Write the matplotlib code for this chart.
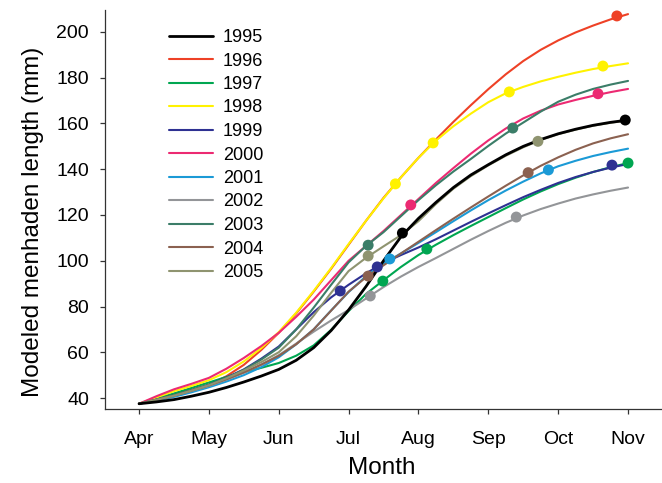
import numpy as np
import matplotlib
matplotlib.use('Agg')
import matplotlib.pyplot as plt

plt.rcParams['font.family'] = ['Liberation Sans', 'DejaVu Sans']

# month positions (Apr = 4 ... Nov = 11), read every quarter month
months = [4, 4.25, 4.5, 4.75, 5, 5.25, 5.5, 5.75, 6, 6.25, 6.5, 6.75, 7, 7.25, 7.5,
          7.75, 8, 8.25, 8.5, 8.75, 9, 9.25, 9.5, 9.75, 10, 10.25, 10.5, 10.75, 11]
month_labels = ['Apr', 'May', 'Jun', 'Jul', 'Aug', 'Sep', 'Oct', 'Nov']

years = ['1995', '1996', '1997', '1998', '1999', '2000',
         '2001', '2002', '2003', '2004', '2005']
colors = ['#000000', '#ee4126', '#00a651', '#fff200', '#2e3192', '#ec2a72',
          '#1b9ad6', '#939598', '#3b7d68', '#8b6150', '#8f9470']

len_1995 = [37.5, 38.3, 39.3, 40.8, 42.5, 44.6, 47.0, 49.6, 52.5, 56.5, 62.0, 69.5, 78.5, 88.8, 100.0,
            110.5, 118.5, 125.5, 132.0, 137.5, 142.0, 146.3, 150.0, 153.0, 155.5, 157.5, 159.2, 160.5, 161.5]
len_1996 = [37.5, 39.5, 41.5, 43.5, 45.8, 49.5, 54.5, 61.0, 68.5, 77.0, 86.5, 96.5, 107.0, 117.5, 127.5,
            136.5, 145.0, 153.0, 160.7, 168.0, 175.0, 181.5, 187.3, 192.2, 196.3, 199.8, 202.8, 205.5, 207.8]
len_1997 = [37.5, 39.8, 42.0, 44.4, 46.8, 49.2, 51.3, 53.2, 55.3, 58.5, 63.0, 69.8, 78.0, 85.5, 91.5,
            97.3, 102.5, 107.0, 111.2, 115.2, 119.1, 123.0, 126.8, 130.3, 133.5, 136.3, 138.8, 140.9, 142.7]
len_1998 = [37.5, 40.3, 43.0, 45.3, 47.8, 51.3, 56.0, 61.8, 68.8, 77.3, 86.8, 96.8, 107.3, 117.5, 127.3,
            136.5, 145.0, 152.5, 158.8, 164.3, 169.3, 173.2, 176.0, 178.4, 180.4, 182.2, 183.8, 185.1, 186.3]
len_1999 = [37.5, 39.3, 41.2, 43.4, 45.8, 48.9, 52.5, 57.2, 62.5, 70.0, 77.5, 84.0, 89.5, 94.5, 99.0,
            102.5, 105.8, 109.4, 113.2, 117.0, 120.7, 124.3, 127.8, 131.0, 134.0, 136.6, 138.8, 140.7, 142.3]
len_2000 = [37.5, 40.8, 43.8, 46.2, 48.8, 52.8, 57.5, 62.7, 68.5, 75.5, 83.0, 91.5, 100.0, 106.5, 113.0,
            120.0, 127.0, 134.0, 140.5, 146.8, 152.6, 157.8, 162.2, 165.6, 168.3, 170.3, 172.1, 173.7, 175.1]
len_2001 = [37.5, 38.9, 40.5, 42.5, 44.7, 47.2, 50.0, 53.5, 57.8, 63.5, 70.0, 78.3, 86.3, 93.3, 98.8,
            103.2, 107.8, 112.5, 117.3, 122.0, 126.5, 130.7, 134.6, 138.2, 141.3, 143.7, 145.8, 147.5, 149.0]
len_2002 = [37.5, 39.2, 41.0, 43.1, 45.3, 48.0, 51.0, 54.6, 58.7, 63.8, 69.0, 73.9, 78.5, 83.5, 88.5,
            93.1, 97.3, 101.2, 105.2, 109.2, 113.0, 116.6, 119.8, 122.6, 125.0, 127.2, 129.0, 130.6, 132.0]
len_2003 = [37.5, 39.3, 41.2, 43.4, 45.7, 48.8, 52.3, 56.8, 62.0, 70.0, 79.5, 89.5, 99.3, 106.5, 112.5,
            119.5, 126.5, 133.0, 139.0, 144.5, 150.2, 155.6, 160.4, 165.2, 169.5, 172.6, 175.1, 177.0, 178.6]
len_2004 = [37.5, 39.2, 41.0, 43.2, 45.5, 48.2, 51.2, 54.6, 58.4, 63.5, 70.0, 78.2, 86.5, 92.8, 98.0,
            103.2, 108.3, 113.4, 118.4, 123.3, 128.1, 132.8, 137.3, 141.5, 145.2, 148.5, 151.3, 153.5, 155.3]
len_2005 = [37.5, 39.2, 41.0, 43.2, 45.6, 48.6, 52.0, 55.7, 60.0, 67.0, 76.0, 86.0, 95.5, 101.3, 106.3,
            111.2, 117.3, 124.8, 131.5, 137.0, 141.7, 145.9, 149.6, 152.8, 155.3, 157.3, 159.0, 160.3, 161.3]

lengths = [len_1995, len_1996, len_1997, len_1998, len_1999, len_2000,
           len_2001, len_2002, len_2003, len_2004, len_2005]

# sampling dots on each curve
dot_year = ['1995', '1995', '1996', '1997', '1997', '1997', '1998', '1998', '1998', '1998',
            '1999', '1999', '1999', '2000', '2000', '2001', '2001', '2002', '2002',
            '2003', '2003', '2004', '2004', '2005', '2005']
dot_month = [7.77, 10.96, 10.84, 7.49, 8.12, 11.0, 7.67, 8.21, 9.30, 10.64,
             6.88, 7.41, 10.77, 7.89, 10.57, 7.59, 9.86, 7.31, 9.40,
             7.28, 9.35, 7.28, 9.57, 7.28, 9.71]
dot_len = [112.1, 161.5, 207.0, 91.1, 105.1, 142.7, 133.6, 151.5, 173.8, 185.1,
           86.8, 97.3, 141.8, 124.4, 173.0, 100.8, 139.7, 84.6, 119.1,
           106.8, 158.0, 93.3, 138.5, 102.1, 152.2]

fig = plt.figure(figsize=(6.62, 4.83), dpi=100)
ax = fig.add_axes([0.1586, 0.1532, 0.8414, 0.8261])

for yr, vals, c in zip(years, lengths, colors):
    lw = 2.0 if yr == '1995' else 1.5
    z = 4 if yr == '1995' else 2
    ax.plot(months, vals, color=c, lw=lw, label=yr, zorder=z,
            solid_capstyle='round', solid_joinstyle='round')

col_of = dict(zip(years, colors))
ax.scatter(dot_month, dot_len, s=62, c=[col_of[y] for y in dot_year],
           zorder=5, linewidths=0)

ax.set_xlim(3.513, 11.486)
ax.set_ylim(35.2, 209.6)
ax.set_xticks(range(4, 12))
ax.set_xticklabels(month_labels)
ax.set_yticks(range(40, 201, 20))

for s in ['top', 'right']:
    ax.spines[s].set_visible(False)
for s in ['left', 'bottom']:
    ax.spines[s].set_linewidth(0.9)
    ax.spines[s].set_color('#333333')
ax.tick_params(direction='out', length=3.5, width=0.9, color='#333333',
               labelsize=14)
ax.tick_params(axis='x', pad=12)
ax.tick_params(axis='y', pad=8)

ax.set_xlabel('Month', fontsize=17.5)
ax.set_ylabel('Modeled menhaden length (mm)', fontsize=17.5)
ax.xaxis.label.set_va('center')
ax.yaxis.label.set_va('center')
ax.xaxis.set_label_coords(0.497, -0.148)
ax.yaxis.set_label_coords(-0.13, 0.469)

fig.legend(loc='upper left', bbox_to_anchor=(169 / 662.0, 1 - 29 / 483.0),
           bbox_transform=fig.transFigure, frameon=False, fontsize=13,
           handlelength=2.44, handletextpad=0.55, labelspacing=0.36,
           borderpad=0, borderaxespad=0)

fig.savefig('out.png', dpi=100)
